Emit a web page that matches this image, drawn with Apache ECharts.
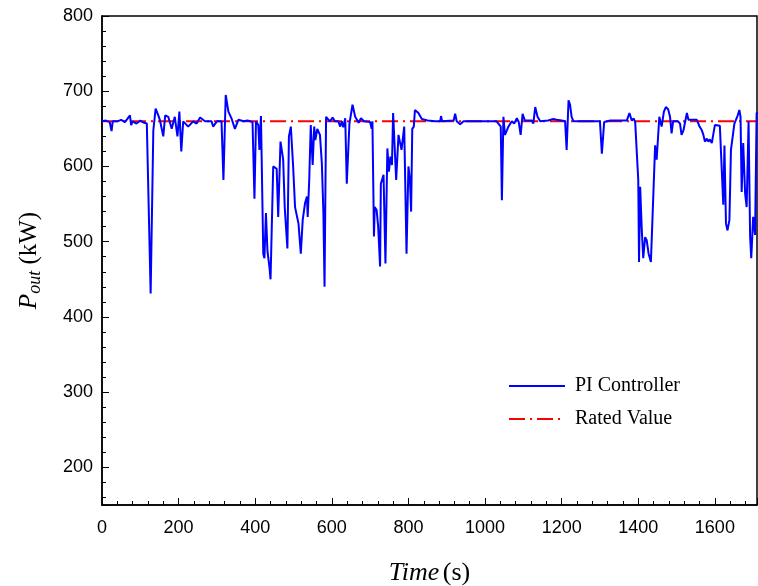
<!DOCTYPE html>
<html>
<head>
<meta charset="utf-8">
<script src="https://cdn.jsdelivr.net/npm/echarts@6/dist/echarts.min.js"></script>
<style>html,body{margin:0;padding:0;background:#fff}#c{width:758px;height:586px}</style>
</head>
<body>
<div id="c"></div>
<script>
const timeS = [0,10,20,25,28,40,50,60,73,76,80,90,100,110,117,121,127,134,140,147,151,160,165,173,182,190,197,202,207,212,225,238,247,256,269,286,290,300,312,317,323,330,338,
347,352,356,370,380,393,398,402,408,411,415,421,424,428,432,437,440,447,452,456,460,466,473,477,484,488,493,499,504,513,519,524,530,535,537,541,545,550,554,557,562,569,574,578,581,585,595,602,608,617,622,626,630,635,639,646,654,661,670,676,
684,700,704,706,710,712,717,721,726,728,735,740,745,749,753,757,760,768,774,778,782,789,795,800,804,807,810,814,817,826,835,850,870,883,885,888,918,922,926,935,944,1000,
1030,1035,1041,1044,1048,1052,1057,1061,1070,1076,1083,1088,1093,1098,1104,1113,1122,1126,1131,1137,1144,1165,1178,1187,1200,1209,1213,1218,1222,1226,1231,1300,1305,1311,1327,
1352,1370,1377,1383,1388,1392,1396,1400,1402,1405,1409,1413,1418,1422,1427,1433,1437,1444,1448,1455,1461,1467,1472,1478,1483,1487,1491,1504,1509,1513,1518,1522,1527,1531,1553,1560,1566,1570,1574,1579,1583,1587,1592,1600,1613,1618,1622,1625,1629,1633,1638,1642,1646,1651,1655,1659,1664,1667,1670,1674,1679,1683,1688,1692,1695,1700,1705,1709,1712];
const piPower = [660,661,659,647,660,660,662,659,668,655,660,657,661,658,657,657,431,648,677,668,662,640,668,666,650,666,640,673,620,660,653,660,657,665,660,660,653,660,660,582,695,673,664,
650,648,662,660,661,659,557,660,655,622,667,484,478,538,487,467,450,600,602,597,533,633,609,546,491,640,653,600,546,524,484,529,551,560,533,582,655,602,653,635,650,642,604,538,440,666,660,665,660,660,653,660,652,664,577,657,682,666,658,664,
660,659,650,660,507,546,542,520,467,577,589,471,624,593,613,602,671,582,642,640,622,653,484,600,582,540,650,653,675,671,663,661,660,660,667,660,661,670,660,656,660,660,
660,657,653,555,666,642,648,653,660,657,664,659,642,670,661,661,661,657,679,666,660,661,663,662,661,660,622,688,682,666,660,660,617,659,661,
661,661,671,661,664,659,657,582,473,573,518,478,506,502,484,473,529,628,609,666,653,673,679,676,666,644,660,660,657,642,648,648,671,662,662,653,648,642,633,637,633,636,631,655,654,653,549,628,524,515,529,622,620,657,655,667,675,666,566,631,564,546,660,507,478,533,509,671,672];
const ratedTime = [0, 1710];
const ratedPower = [660, 660];
const xTicks = [0,200,400,600,800,1000,1200,1400,1600];
const yTicks = [200,300,400,500,600,700,800];

const piData = timeS.map((t,i)=>[t, piPower[i]]);
const ratedData = ratedTime.map((t,i)=>[t, ratedPower[i]]);

const chart = echarts.init(document.getElementById('c'), null, {renderer:'canvas'});
const tickFont = {fontFamily:'Liberation Sans', fontSize:18, color:'#000'};
chart.setOption({
  animation:false,
  backgroundColor:'#fff',
  grid:{left:102, right:1, top:16, bottom:81, show:true, borderColor:'#000', borderWidth:1.5, outerBoundsMode:'none', containLabel:false},
  legend:{
    orient:'vertical', left:503, top:371, itemWidth:56, itemHeight:14, itemGap:13,
    itemStyle:{opacity:0},
    textStyle:{fontFamily:'Liberation Serif', fontSize:20, color:'#000', padding:[0,0,0,5]},
    data:['PI Controller','Rated Value']
  },
  xAxis:{
    type:'value', min:0, max:1710, interval:200,
    name:'{i|Time} {n|(s)}', nameLocation:'middle', nameGap:55,
    nameTextStyle:{rich:{i:{fontFamily:'Liberation Serif', fontStyle:'italic', fontSize:26, color:'#000'}, n:{fontFamily:'Liberation Serif', fontSize:26, color:'#000'}}},
    axisLine:{lineStyle:{color:'#000', width:1.5}},
    axisTick:{inside:true, length:7, lineStyle:{color:'#000'}},
    minorTick:{show:true, splitNumber:5, length:4, lineStyle:{color:'#000'}},
    splitLine:{show:false},
    axisLabel:Object.assign({margin:14, formatter:v=> xTicks.includes(v) ? String(v) : ''}, tickFont)
  },
  yAxis:{
    type:'value', min:150, max:800, splitNumber:6,
    name:'{p|P}{s|out}{n| (kW)}', nameLocation:'middle', nameGap:58,
    nameTextStyle:{rich:{
      p:{fontFamily:'Liberation Serif', fontStyle:'italic', fontSize:25, color:'#000'},
      s:{fontFamily:'Liberation Serif', fontStyle:'italic', fontSize:18, color:'#000', padding:[12,0,0,0]},
      n:{fontFamily:'Liberation Serif', fontSize:25, color:'#000'}}},
    axisLine:{lineStyle:{color:'#000', width:1.5}},
    axisTick:{inside:true, length:7, lineStyle:{color:'#000'}},
    minorTick:{show:true, splitNumber:5, length:4, lineStyle:{color:'#000'}},
    splitLine:{show:false},
    axisLabel:Object.assign({margin:9, formatter:v=> yTicks.includes(v) ? String(v) : ''}, tickFont)
  },
  series:[
    {name:'PI Controller', type:'line', data:piData, symbol:'none', z:3,
      lineStyle:{color:'#0000ff', width:2}, itemStyle:{color:'#0000ff'}},
    {name:'Rated Value', type:'line', data:ratedData, symbol:'none', z:2,
      lineStyle:{color:'#ff0000', width:2, type:[16,5,2,5]}, itemStyle:{color:'#ff0000'}}
  ]
});
</script>
</body>
</html>
